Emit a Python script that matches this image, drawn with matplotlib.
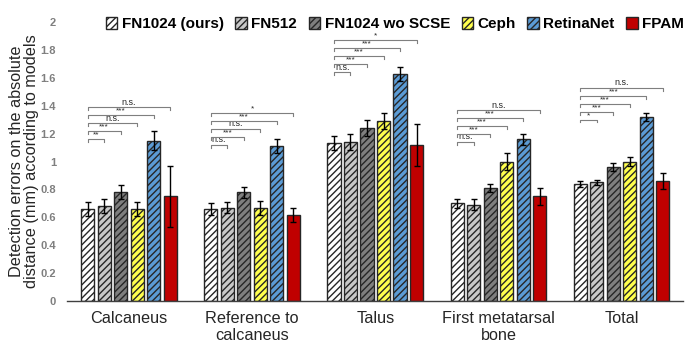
import matplotlib
matplotlib.use("Agg")
import matplotlib.pyplot as plt
import numpy as np

plt.rcParams['font.family'] = ['Liberation Sans', 'DejaVu Sans']
plt.rcParams['hatch.linewidth'] = 1.0

categories = ["Calcaneus", "Reference to\ncalcaneus", "Talus", "First metatarsal\nbone", "Total"]
models = ["FN1024 (ours)", "FN512", "FN1024 wo SCSE", "Ceph", "RetinaNet", "FPAM"]

values = {
    "FN1024 (ours)": [0.66, 0.66, 1.13, 0.70, 0.84],
    "FN512": [0.68, 0.67, 1.14, 0.69, 0.85],
    "FN1024 wo SCSE": [0.78, 0.78, 1.24, 0.81, 0.96],
    "Ceph": [0.66, 0.67, 1.29, 1.00, 1.00],
    "RetinaNet": [1.15, 1.11, 1.63, 1.16, 1.32],
    "FPAM": [0.75, 0.62, 1.12, 0.75, 0.86],
}
errors = {
    "FN1024 (ours)": [0.05, 0.04, 0.05, 0.03, 0.02],
    "FN512": [0.05, 0.04, 0.06, 0.04, 0.02],
    "FN1024 wo SCSE": [0.05, 0.04, 0.06, 0.03, 0.03],
    "Ceph": [0.05, 0.05, 0.06, 0.06, 0.03],
    "RetinaNet": [0.07, 0.05, 0.05, 0.04, 0.03],
    "FPAM": [0.22, 0.05, 0.15, 0.06, 0.06],
}
# significance of FN1024 (ours) vs. each other model, per category
sig_labels = [
    ["**", "***", "n.s.", "***", "n.s."],
    ["n.s.", "***", "n.s.", "***", "*"],
    ["n.s.", "***", "***", "***", "*"],
    ["n.s.", "***", "***", "***", "n.s."],
    ["*", "***", "***", "***", "n.s."],
]
# height of the lowest bracket per category
sig_base = [1.16, 1.12, 1.64, 1.14, 1.30]
sig_step = 0.057

face_colors = ["#ffffff", "#c8c8c8", "#7f7f7f", "#ffff4d", "#5b9bd5", "#c00000"]
hatches = ["/////", "/////", "/////", "/////", "/////", ""]

fig = plt.figure(figsize=(6.93, 3.55), dpi=100)
ax = fig.add_axes([0.097, 0.152, 0.889, 0.786])

x = np.arange(len(categories))
pitch = 0.134
width = 0.106
offsets = (np.arange(len(models)) - 2.5) * pitch

for i, m in enumerate(models):
    ax.bar(x + offsets[i], values[m], width, yerr=errors[m], color=face_colors[i],
           edgecolor="#262626", linewidth=1.0, hatch=hatches[i], label=m,
           error_kw=dict(ecolor="black", elinewidth=1.0, capsize=2.5, capthick=1.0),
           zorder=2)

tick_h = 0.02
for g in range(len(categories)):
    x0 = x[g] + offsets[0]
    for k in range(5):
        x1 = x[g] + offsets[k + 1]
        y = sig_base[g] + k * sig_step
        ax.plot([x0, x0, x1, x1], [y - tick_h, y, y, y - tick_h], color="#7f7f7f",
                lw=0.8, zorder=3)
        lab = sig_labels[g][k]
        ax.text((x0 + x1) / 2, y + 0.004, lab, ha="center", va="bottom",
                fontsize=6.5 if lab == "n.s." else 6, color="#262626")

ax.set_xlim(-0.5, 4.5)
ax.set_ylim(0, 2)
ax.set_yticks(np.arange(0, 2.01, 0.2))
ax.set_yticklabels(["0", "0.2", "0.4", "0.6", "0.8", "1", "1.2", "1.4", "1.6", "1.8", "2"],
                   fontsize=8, color="#7f7f7f", fontweight="bold")
ax.set_xticks(x)
ax.set_xticklabels(categories, fontsize=11.7, color="#262626")
ax.tick_params(axis="both", length=0)
ax.tick_params(axis="y", pad=8)
ax.tick_params(axis="x", pad=7)
for s in ["top", "right", "left"]:
    ax.spines[s].set_visible(False)
ax.spines["bottom"].set_color("#404040")
ax.spines["bottom"].set_linewidth(1.0)

ax.set_ylabel("Detection errors on the absolute\ndistance (mm) according to models",
              fontsize=11.7, color="#262626", labelpad=1, linespacing=1.0)

leg = fig.legend(loc="upper right", bbox_to_anchor=(1.007, 0.99), ncol=6, frameon=False,
                 prop=dict(weight="bold", size=11), handlelength=0.75, handleheight=0.75,
                 handletextpad=0.3, columnspacing=0.75)

fig.savefig("out.png", dpi=100)
